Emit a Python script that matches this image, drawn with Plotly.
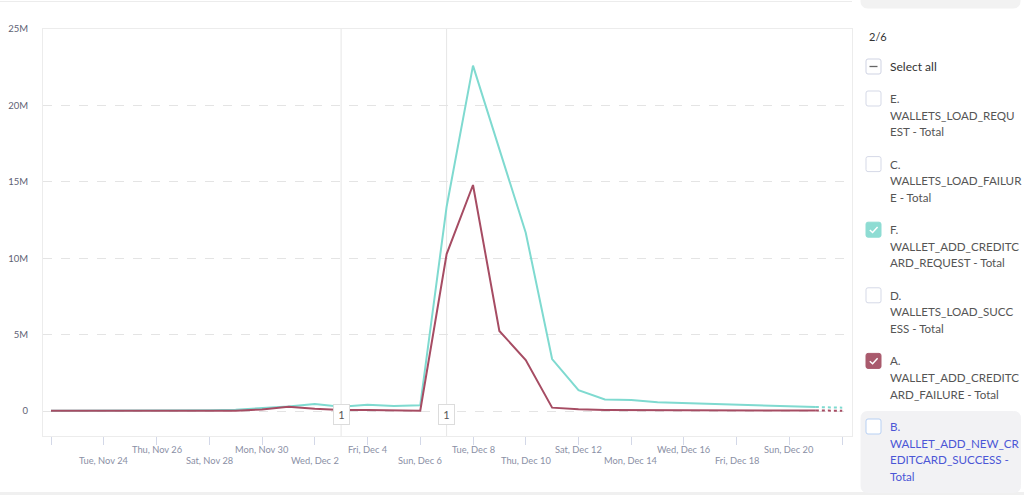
import plotly.graph_objects as go
import pandas as pd

# ---------------- data ----------------
dates = pd.date_range("2020-11-22", "2020-12-22", freq="D")
req_total = [0.02, 0.02, 0.02, 0.02, 0.02, 0.03, 0.05, 0.09, 0.17, 0.30, 0.46,
             0.28, 0.41, 0.33, 0.37, 13.37, 22.6, 17.1, 11.67, 3.4, 1.37, 0.75,
             0.72, 0.57, 0.52, 0.44, 0.39, 0.35, 0.28, 0.26, 0.22]
fail_total = [0.01, 0.01, 0.01, 0.01, 0.01, 0.01, 0.01, 0.02, 0.10, 0.28, 0.15,
              0.06, 0.06, 0.04, 0.02, 10.27, 14.79, 5.24, 3.34, 0.22, 0.11, 0.07,
              0.06, 0.05, 0.05, 0.04, 0.04, 0.03, 0.03, 0.03, 0.02]
req_total = [v * 1e6 for v in req_total]
fail_total = [v * 1e6 for v in fail_total]

y_tickvals = [0, 5e6, 10e6, 15e6, 20e6, 25e6]
y_ticktext = ["0", "5M", "10M", "15M", "20M", "25M"]

x_tickdates = pd.date_range("2020-11-22", "2020-12-22", freq="2D")
x_labels_upper = ["Thu, Nov 26", "Mon, Nov 30", "Fri, Dec 4", "Tue, Dec 8",
                  "Sat, Dec 12", "Wed, Dec 16", "Sun, Dec 20"]
x_labels_upper_dates = ["2020-11-26", "2020-11-30", "2020-12-04", "2020-12-08",
                        "2020-12-12", "2020-12-16", "2020-12-20"]
x_labels_lower = ["Tue, Nov 24", "Sat, Nov 28", "Wed, Dec 2", "Sun, Dec 6",
                  "Thu, Dec 10", "Mon, Dec 14", "Fri, Dec 18"]
x_labels_lower_dates = ["2020-11-24", "2020-11-28", "2020-12-02", "2020-12-06",
                        "2020-12-10", "2020-12-14", "2020-12-18"]

event_dates = ["2020-12-03", "2020-12-07"]
event_labels = ["1", "1"]

panel_count = "2/6"
legend_items = [
    ("E.", ["WALLETS_LOAD_REQU", "EST - Total"], None),
    ("C.", ["WALLETS_LOAD_FAILUR", "E - Total"], None),
    ("F.", ["WALLET_ADD_CREDITC", "ARD_REQUEST - Total"], "#8edcd3"),
    ("D.", ["WALLETS_LOAD_SUCC", "ESS - Total"], None),
    ("A.", ["WALLET_ADD_CREDITC", "ARD_FAILURE - Total"], "#a95a6d"),
    ("B.", ["WALLET_ADD_NEW_CR", "EDITCARD_SUCCESS -", "Total"], "hover"),
]

TEAL = "#7fdad0"
RED = "#a64c63"
FONT = "Lato"
LEG_SIZE = 11.6

# ---------------- geometry helpers ----------------
L, R, T, B = 43, 852, 29, 436
W, H = 1024, 495


def px(x):
    return (x - L) / (R - L)


def py(y):
    return (B - y) / (B - T)


fig = go.Figure()

# solid part (all but last) + dotted last segment
for vals, col in [(req_total, TEAL), (fail_total, RED)]:
    fig.add_trace(go.Scatter(x=dates[:-1], y=vals[:-1], mode="lines",
                             line=dict(color=col, width=2), hoverinfo="skip",
                             showlegend=False))
    fig.add_trace(go.Scatter(x=dates[-2:], y=vals[-2:], mode="lines",
                             line=dict(color=col, width=2, dash="dot"),
                             hoverinfo="skip", showlegend=False))

shapes = []
annotations = []

# event lines
for d, lab in zip(event_dates, event_labels):
    shapes.append(dict(type="line", xref="x", yref="paper", x0=d, x1=d, y0=0, y1=1,
                       line=dict(color="#e6e6e6", width=1), layer="below"))
    annotations.append(dict(xref="x", yref="paper", x=d, y=py(424.5), text=lab,
                            showarrow=False, bgcolor="white", bordercolor="#dcdcdc",
                            borderwidth=1, borderpad=3, width=9,
                            font=dict(family=FONT, size=11, color="#555")))

# x tick labels in two rows
for d, t in zip(x_labels_upper_dates, x_labels_upper):
    annotations.append(dict(xref="x", yref="paper", x=d, y=py(449.5), text=t,
                            showarrow=False, yanchor="middle",
                            font=dict(family=FONT, size=9.3, color="#8a8fa5")))
for d, t in zip(x_labels_lower_dates, x_labels_lower):
    annotations.append(dict(xref="x", yref="paper", x=d, y=py(460.5), text=t,
                            showarrow=False, yanchor="middle",
                            font=dict(family=FONT, size=9.3, color="#8a8fa5")))


def rrect(x0, y0, x1, y1, r, fill, line_col, lw=1):
    # rounded rect in pixel coords -> paper path
    rx = r / (R - L)
    ry = r / (B - T)
    X0, X1 = px(x0), px(x1)
    Y0, Y1 = py(y1), py(y0)  # Y0 bottom, Y1 top
    path = (f"M {X0+rx},{Y0} L {X1-rx},{Y0} Q {X1},{Y0} {X1},{Y0+ry} "
            f"L {X1},{Y1-ry} Q {X1},{Y1} {X1-rx},{Y1} L {X0+rx},{Y1} "
            f"Q {X0},{Y1} {X0},{Y1-ry} L {X0},{Y0+ry} Q {X0},{Y0} {X0+rx},{Y0} Z")
    return dict(type="path", xref="paper", yref="paper", path=path,
                fillcolor=fill, line=dict(color=line_col, width=lw), layer="above")


# outer frame lines
shapes.append(dict(type="line", xref="paper", yref="paper", x0=px(0), x1=px(852),
                   y0=py(1.5), y1=py(1.5), line=dict(color="#ececec", width=1)))
shapes.append(dict(type="rect", xref="paper", yref="paper", x0=px(0), x1=px(1024),
                   y0=py(495), y1=py(492), fillcolor="#f0f0f0", line=dict(width=0)))
# top search box remnant
shapes.append(rrect(861, -10, 1020, 8, 7, "#f2f2f2", "#f2f2f2"))

# panel header
annotations.append(dict(xref="paper", yref="paper", x=px(867), y=py(36.5), text=panel_count,
                        showarrow=False, xanchor="left", yanchor="middle",
                        font=dict(family=FONT, size=11, color="#333")))
# select all
shapes.append(rrect(866, 59, 881, 74, 2, "white", "#cfd3e3"))
shapes.append(dict(type="line", xref="paper", yref="paper", x0=px(869.5), x1=px(877.5),
                   y0=py(66.5), y1=py(66.5), line=dict(color="#666", width=1.3)))
annotations.append(dict(xref="paper", yref="paper", x=px(888), y=py(66.5), text="Select all",
                        showarrow=False, xanchor="left", yanchor="middle",
                        font=dict(family=FONT, size=LEG_SIZE + 0.4, color="#333")))

item_y0 = 98.5
item_step = 65.6
line_h = 16.6
for i, (head, lines, state) in enumerate(legend_items):
    cy = item_y0 + i * item_step
    txt_col = "#555555"
    if state == "hover":
        shapes.append(rrect(861, cy - 15, 1020.5, cy + 66, 7, "#f2f2f4", "#f2f2f4"))
        shapes.append(rrect(866, cy - 7.5, 881, cy + 7.5, 2, "white", "#b7d0f3"))
        txt_col = "#4b56d6"
    elif state is None:
        shapes.append(rrect(866, cy - 7.5, 881, cy + 7.5, 2, "white", "#d5d9e7"))
    else:
        shapes.append(rrect(866, cy - 7.5, 881, cy + 7.5, 2, state, state))
        shapes.append(dict(type="path", xref="paper", yref="paper",
                           path=f"M {px(869.8)},{py(cy+0.3)} L {px(872.6)},{py(cy+2.8)} "
                                f"L {px(877.6)},{py(cy-2.6)}",
                           line=dict(color="white", width=1.5)))
    annotations.append(dict(xref="paper", yref="paper", x=px(888), y=py(cy), text=head,
                            showarrow=False, xanchor="left", yanchor="middle",
                            font=dict(family=FONT, size=LEG_SIZE, color=txt_col)))
    for j, ln in enumerate(lines):
        annotations.append(dict(xref="paper", yref="paper", x=px(888),
                                y=py(cy + (j + 1) * line_h), text=ln,
                                showarrow=False, xanchor="left", yanchor="middle",
                                font=dict(family=FONT, size=LEG_SIZE, color=txt_col)))

fig.update_layout(
    width=W, height=H,
    margin=dict(l=L, r=W - R, t=T, b=H - B, autoexpand=False),
    paper_bgcolor="white", plot_bgcolor="white",
    shapes=shapes, annotations=annotations,
    showlegend=False,
    xaxis=dict(
        type="date", automargin=False,
        range=["2020-11-21 16:43", "2020-12-22 08:53"],
        tickvals=list(x_tickdates), showticklabels=False,
        ticks="outside", ticklen=8, tickcolor="#d3d8e8", tickwidth=1,
        showgrid=False, zeroline=False,
        showline=True, linecolor="#ececec", linewidth=1, mirror=True,
    ),
    yaxis=dict(
        automargin=False,
        range=[-1.636e6, 25e6],
        tickvals=y_tickvals, ticktext=y_ticktext,
        tickfont=dict(family=FONT, size=9.5, color="#5e6274"),
        ticklabelstandoff=12,
        showgrid=True, gridcolor="#e4e4e4", griddash="dash", gridwidth=1,
        zeroline=False,
        showline=True, linecolor="#ececec", linewidth=1, mirror=True,
    ),
)

fig.write_html("out.html", config={"displayModeBar": False},
               post_script="document.body.style.margin='0px';")
